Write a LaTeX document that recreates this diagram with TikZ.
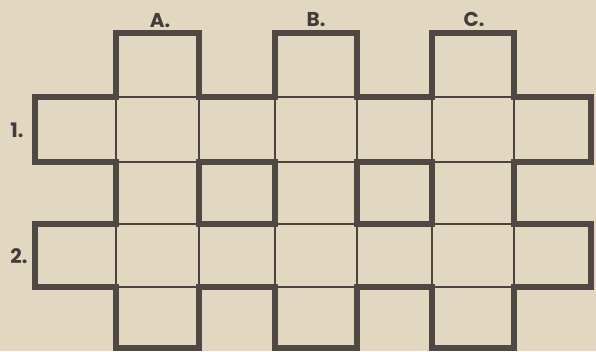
\documentclass[tikz,border=0pt]{standalone}
\usepackage{fontspec}
\newfontfamily\labelfont{Poppins}
\definecolor{paper}{HTML}{E2D8C1}
\definecolor{ink}{HTML}{4F4843}
\definecolor{thinink}{HTML}{4A433E}
\tikzset{
  thickline/.style={draw=ink, line width=5.8pt, line join=miter},
  thinline/.style={draw=thinink, line width=1.8pt},
  cluelabel/.style={text=ink!85!black, font=\labelfont\bfseries\fontsize{20}{21}\selectfont, inner sep=0pt, anchor=base},
}
\begin{document}
\begin{tikzpicture}[x=1pt,y=-1pt]
  \def\Xa{35}\def\Xb{116}\def\Xc{199}\def\Xd{275}\def\Xe{357}\def\Xf{432}\def\Xg{514}\def\Xh{591}
  \def\Ya{33}\def\Yb{97}\def\Yc{162}\def\Yd{224}\def\Ye{287}\def\Yf{348}
  \fill[paper] (0,0) rectangle (596,351);
  \useasboundingbox (0,0) rectangle (596,351);
  % thin cell lines
  \foreach \xl/\xr in {\Xb/\Xc,\Xd/\Xe,\Xf/\Xg} {
    \foreach \yt/\yb in {\Ya/\Yb,\Yb/\Yc,\Yc/\Yd,\Yd/\Ye,\Ye/\Yf} {
      \draw[thinline] (\xl,\yt) rectangle (\xr,\yb);
    }
  }
  \foreach \xl/\xr in {\Xa/\Xb,\Xb/\Xc,\Xc/\Xd,\Xd/\Xe,\Xe/\Xf,\Xf/\Xg,\Xg/\Xh} {
    \draw[thinline] (\xl,\Yb) rectangle (\xr,\Yc);
    \draw[thinline] (\xl,\Yd) rectangle (\xr,\Ye);
  }
  % thick outline
  \draw[thickline] (\Xb,\Ya) -- (\Xc,\Ya) -- (\Xc,\Yb) -- (\Xd,\Yb) -- (\Xd,\Ya) -- (\Xe,\Ya)
    -- (\Xe,\Yb) -- (\Xf,\Yb) -- (\Xf,\Ya) -- (\Xg,\Ya) -- (\Xg,\Yb) -- (\Xh,\Yb)
    -- (\Xh,\Yc) -- (\Xg,\Yc) -- (\Xg,\Yd) -- (\Xh,\Yd) -- (\Xh,\Ye) -- (\Xg,\Ye)
    -- (\Xg,\Yf) -- (\Xf,\Yf) -- (\Xf,\Ye) -- (\Xe,\Ye) -- (\Xe,\Yf) -- (\Xd,\Yf)
    -- (\Xd,\Ye) -- (\Xc,\Ye) -- (\Xc,\Yf) -- (\Xb,\Yf) -- (\Xb,\Ye) -- (\Xa,\Ye)
    -- (\Xa,\Yd) -- (\Xb,\Yd) -- (\Xb,\Yc) -- (\Xa,\Yc) -- (\Xa,\Yb) -- (\Xb,\Yb) -- cycle;
  \draw[thickline] (\Xc,\Yc) rectangle (\Xd,\Yd);
  \draw[thickline] (\Xe,\Yc) rectangle (\Xf,\Yd);
  % labels
  \node[cluelabel] (labA) at (160,27) {A.};
  \node[cluelabel] (labB) at (316,26) {B.};
  \node[cluelabel] (labC) at (474,26) {C.};
  \node[cluelabel] (lab1) at (17,137) {1.};
  \node[cluelabel] (lab2) at (19,263) {2.};
\end{tikzpicture}
\end{document}
